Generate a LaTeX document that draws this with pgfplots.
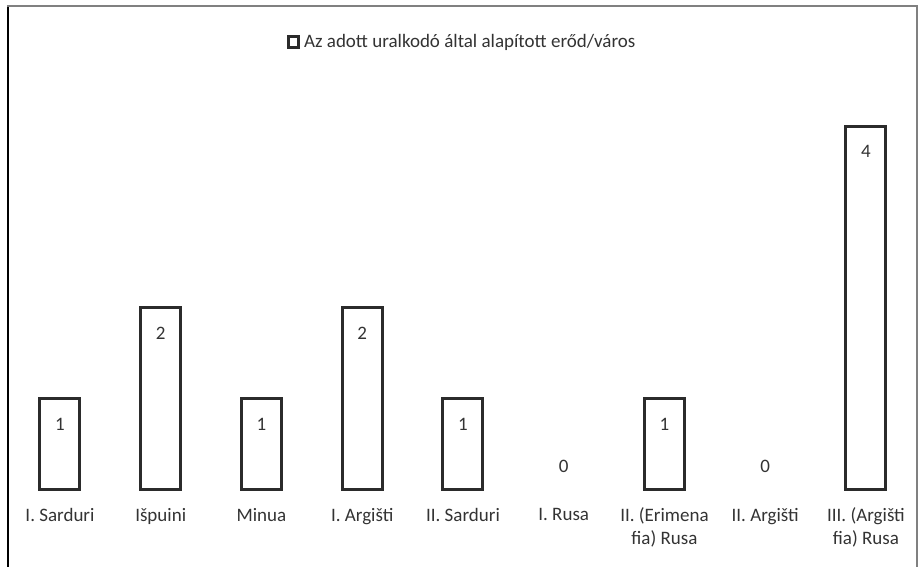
\documentclass[border=0pt]{standalone}
\usepackage{pgfplots}
\pgfplotsset{compat=1.18}
\usepackage{fontspec}
\setmainfont{Carlito}
\definecolor{barline}{HTML}{2B2B2B}
\definecolor{txt}{HTML}{333333}
\begin{document}
\begin{tikzpicture}
\useasboundingbox (-4.8pt,-38.5pt) rectangle (456.7pt,245pt);
\begin{axis}[
  at={(0,0)}, anchor=south west,
  scale only axis, width=453.375pt, height=182pt,
  xmin=-0.5, xmax=8.5, ymin=0, ymax=4,
  clip=false,
  axis line style={draw=none},
  tick style={draw=none},
  major tick length=0pt,
  ytick=\empty,
  xtick={0,...,8},
  xticklabels={I. Sarduri, Išpuini, Minua, I. Argišti, II. Sarduri, I. Rusa, {II. (Erimena\\fia) Rusa}, II. Argišti, {III. (Argišti\\fia) Rusa}},
  xticklabel style={font=\fontsize{9.5pt}{11.5pt}\selectfont, text=txt, align=center, anchor=north, yshift=-5.5pt},
  /pgf/number format/assume math mode=true,
  legend style={draw=none, at={(0.5,1.231)}, anchor=center, font=\fontsize{9.5pt}{11.5pt}\selectfont, text=txt, legend cell align=left, inner sep=1pt},
  legend image code/.code={\draw[barline, line width=1.6pt, fill=white] (0.4pt,-2.6pt) rectangle (5.6pt,2.6pt);},
]
\addplot[ybar, bar width=20pt, draw=barline, fill=white, line width=1.5pt,
  nodes near coords,
  every node near coord/.append style={anchor=center, yshift=-12.5pt, font=\fontsize{9.5pt}{11.5pt}\selectfont, text=txt}]
  coordinates {(0,1) (1,2) (2,1) (3,2) (4,1) (6,1) (8,4)};
\addlegendentry{Az adott uralkodó által alapított erőd/város}
\addplot[only marks, mark=none, forget plot,
  nodes near coords,
  every node near coord/.append style={anchor=center, yshift=12pt, font=\fontsize{9.5pt}{11.5pt}\selectfont, text=txt}]
  coordinates {(5,0) (7,0)};
\end{axis}
\draw[black, line width=1pt] (-0.8pt,-38.5pt) -- (-0.8pt,241.75pt);
\draw[gray, line width=1pt] (-1.3pt,241.75pt) -- (453.7pt,241.75pt) -- (453.7pt,-38.5pt);
\end{tikzpicture}
\end{document}
